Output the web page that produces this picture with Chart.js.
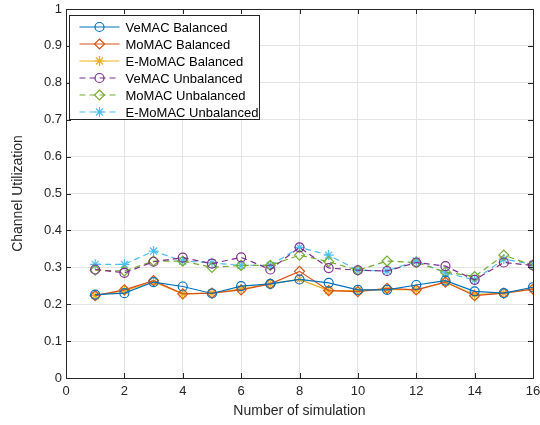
<!DOCTYPE html>
<html>
<head>
<meta charset="utf-8">
<script src="https://cdn.jsdelivr.net/npm/chart.js@4.4.0/dist/chart.umd.min.js"></script>
<style>
  html, body { margin: 0; padding: 0; background: #fff; }
  #wrap { width: 540px; height: 425px; position: relative; }
</style>
</head>
<body>
<div id="wrap"><canvas id="c" width="540" height="425"></canvas></div>
<script>
// number of simulation
const sims = [1, 2, 3, 4, 5, 6, 7, 8, 9, 10, 11, 12, 13, 14, 15, 16];

// balanced scenario
const vemacBal   = [0.226, 0.230, 0.260, 0.248, 0.229, 0.249, 0.255, 0.267, 0.258, 0.239, 0.239, 0.252, 0.264, 0.235, 0.230, 0.246];
const momacBal   = [0.223, 0.239, 0.264, 0.228, 0.230, 0.239, 0.255, 0.289, 0.237, 0.234, 0.243, 0.239, 0.260, 0.223, 0.230, 0.241];
const emomacBal  = [0.223, 0.237, 0.260, 0.228, 0.230, 0.241, 0.255, 0.267, 0.237, 0.237, 0.240, 0.239, 0.260, 0.226, 0.230, 0.241];

// unbalanced scenario
const vemacUnb   = [0.294, 0.285, 0.315, 0.326, 0.310, 0.327, 0.294, 0.354, 0.298, 0.292, 0.290, 0.313, 0.303, 0.266, 0.313, 0.305];
const momacUnb   = [0.292, 0.290, 0.317, 0.317, 0.300, 0.305, 0.305, 0.333, 0.315, 0.292, 0.317, 0.313, 0.287, 0.275, 0.333, 0.305];
const emomacUnb  = [0.308, 0.308, 0.344, 0.317, 0.312, 0.305, 0.305, 0.354, 0.333, 0.292, 0.290, 0.317, 0.285, 0.266, 0.322, 0.308];

const xTicks = [0, 2, 4, 6, 8, 10, 12, 14, 16];
const yTicks = [0, 0.1, 0.2, 0.3, 0.4, 0.5, 0.6, 0.7, 0.8, 0.9, 1];

const FONT = "'Liberation Sans', Arial, Helvetica, sans-serif";
const AXIS = "#262626";
const SIZES = { circle: 4.5, rectRot: 5, star: 5 };
const LW = 1.2;

// legend entries, same order as the datasets
const legendItems = [];

function pts(arr) { return sims.map((x, i) => ({ x: x, y: arr[i] })); }

function series(label, arr, color, shape, dashed) {
  legendItems.push({ label: label, color: color, shape: shape, dash: dashed ? [6, 4] : [] });
  return {
    label: label,
    data: pts(arr),
    borderColor: color,
    backgroundColor: color,
    borderWidth: LW,
    borderDash: dashed ? [6, 4] : [],
    pointStyle: shape,
    pointRadius: SIZES[shape],
    pointBorderWidth: LW,
    pointBorderColor: color,
    pointBackgroundColor: "rgba(0,0,0,0)",
    pointHoverRadius: SIZES[shape],
    tension: 0,
    fill: false
  };
}

// simple marker drawing for the legend
function marker(ctx, shape, x, y, r, color) {
  ctx.save();
  ctx.strokeStyle = color;
  ctx.lineWidth = LW;
  ctx.setLineDash([]);
  ctx.beginPath();
  if (shape === "circle") {
    ctx.arc(x, y, r, 0, Math.PI * 2);
  } else if (shape === "rectRot") {
    ctx.moveTo(x, y - r); ctx.lineTo(x + r, y); ctx.lineTo(x, y + r); ctx.lineTo(x - r, y); ctx.closePath();
  } else {
    const d = r * Math.SQRT1_2;
    ctx.moveTo(x - r, y); ctx.lineTo(x + r, y);
    ctx.moveTo(x, y - r); ctx.lineTo(x, y + r);
    ctx.moveTo(x - d, y - d); ctx.lineTo(x + d, y + d);
    ctx.moveTo(x - d, y + d); ctx.lineTo(x + d, y - d);
  }
  ctx.stroke();
  ctx.restore();
}

const frame = {
  id: "frame",
  afterDraw(chart) {
    const { ctx, chartArea: a, scales } = chart;
    ctx.save();
    ctx.strokeStyle = AXIS;
    ctx.lineWidth = 1;
    ctx.setLineDash([]);
    ctx.strokeRect(Math.round(a.left) + 0.5, Math.round(a.top) + 0.5, Math.round(a.right - a.left), Math.round(a.bottom - a.top));
    // inward ticks on all sides
    ctx.beginPath();
    xTicks.forEach(v => {
      const px = Math.round(scales.x.getPixelForValue(v)) + 0.5;
      ctx.moveTo(px, a.bottom); ctx.lineTo(px, a.bottom - 5);
      ctx.moveTo(px, a.top); ctx.lineTo(px, a.top + 5);
    });
    yTicks.forEach(v => {
      const py = Math.round(scales.y.getPixelForValue(v)) + 0.5;
      ctx.moveTo(a.left, py); ctx.lineTo(a.left + 5, py);
      ctx.moveTo(a.right, py); ctx.lineTo(a.right - 5, py);
    });
    ctx.stroke();

    // legend box
    const lx = Math.round(a.left) + 3.5, ly = Math.round(a.top) + 6.5;
    const lw = 190, lh = 104, rowH = 17;
    ctx.fillStyle = "#fff";
    ctx.fillRect(lx, ly, lw, lh);
    ctx.strokeStyle = AXIS;
    ctx.strokeRect(lx, ly, lw, lh);
    ctx.font = "13px " + FONT;
    ctx.textBaseline = "middle";
    ctx.textAlign = "left";
    legendItems.forEach((it, i) => {
      const y = Math.round(ly + 11 + i * rowH);
      ctx.save();
      ctx.strokeStyle = it.color;
      ctx.lineWidth = LW;
      ctx.setLineDash(it.dash);
      ctx.beginPath();
      ctx.moveTo(lx + 10, y); ctx.lineTo(lx + 50, y);
      ctx.stroke();
      ctx.restore();
      marker(ctx, it.shape, lx + 30, y, SIZES[it.shape], it.color);
      ctx.fillStyle = "#000";
      ctx.fillText(it.label, lx + 56, y + 1);
    });
    ctx.restore();
  }
};

new Chart(document.getElementById("c"), {
  type: "line",
  data: {
    datasets: [
      series("VeMAC Balanced", vemacBal, "#0072BD", "circle", false),
      series("MoMAC Balanced", momacBal, "#D95319", "rectRot", false),
      series("E-MoMAC Balanced", emomacBal, "#EDB120", "star", false),
      series("VeMAC Unbalanced", vemacUnb, "#7E2F8E", "circle", true),
      series("MoMAC Unbalanced", momacUnb, "#77AC30", "rectRot", true),
      series("E-MoMAC Unbalanced", emomacUnb, "#4DBEEE", "star", true)
    ]
  },
  options: {
    responsive: false,
    animation: false,
    layout: { padding: { top: 9, right: 7, left: 0, bottom: 0 } },
    plugins: { legend: { display: false }, tooltip: { enabled: false } },
    scales: {
      x: {
        type: "linear",
        min: 0, max: 16,
        afterBuildTicks(s) { s.ticks = xTicks.map(v => ({ value: v })); },
        afterFit(s) { s.height = 47; s.paddingLeft = 0; s.paddingRight = 0; },
        border: { display: false },
        grid: { color: "#e3e3e3", drawTicks: false },
        ticks: { color: AXIS, font: { family: FONT, size: 13 }, padding: 6, maxRotation: 0 },
        title: { display: true, text: "Number of simulation", color: AXIS, font: { family: FONT, size: 14 }, padding: { top: 4, bottom: 5 } }
      },
      y: {
        min: 0, max: 1,
        afterBuildTicks(s) { s.ticks = yTicks.map(v => ({ value: v })); },
        afterFit(s) { s.width = 66; s.paddingTop = 0; s.paddingBottom = 0; },
        border: { display: false },
        grid: { color: "#e3e3e3", drawTicks: false },
        ticks: { color: AXIS, font: { family: FONT, size: 13 }, padding: 4, callback: v => String(Math.round(v * 10) / 10) },
        title: { display: true, text: "Channel Utilization", color: AXIS, font: { family: FONT, size: 14 }, padding: { top: 10, bottom: 4 } }
      }
    }
  },
  plugins: [frame]
});
</script>
</body>
</html>
